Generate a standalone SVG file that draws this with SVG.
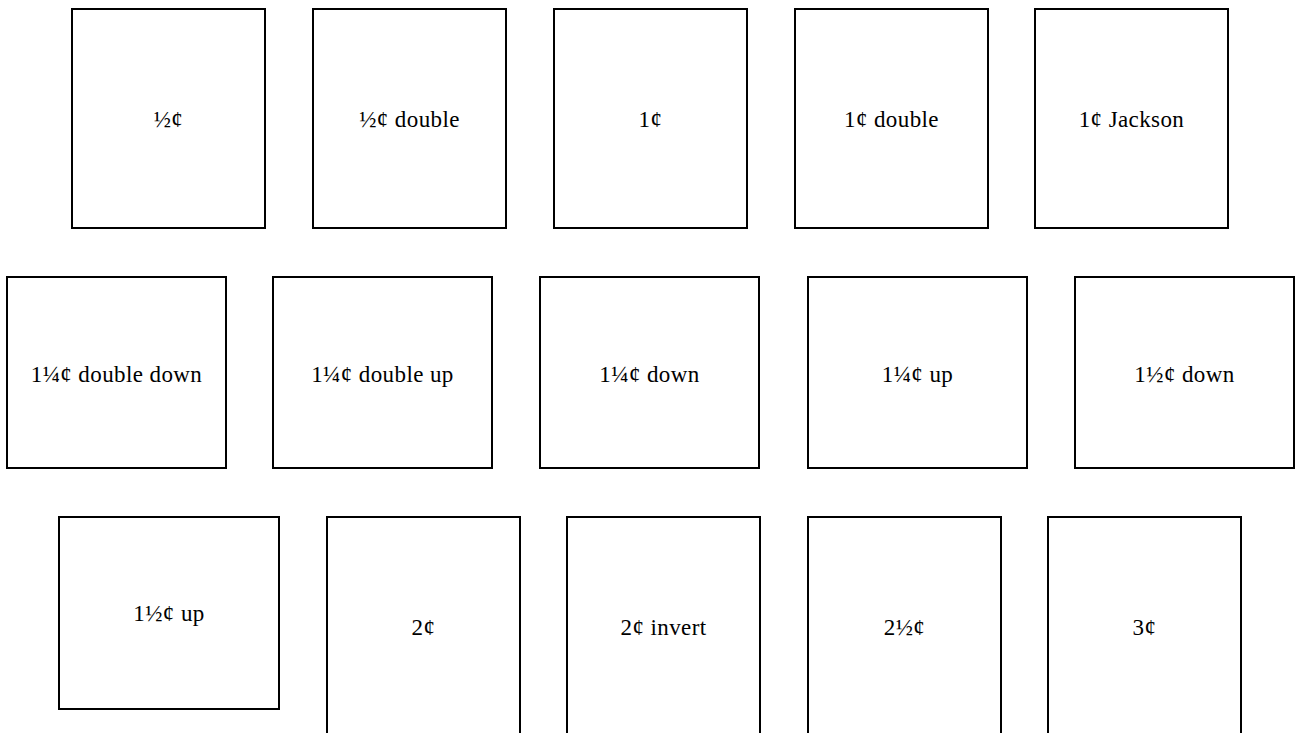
<svg xmlns="http://www.w3.org/2000/svg" width="1298" height="733" viewBox="0 0 1298 733">
<style>
.box{fill:#fff;stroke:#000;stroke-width:2}
.lbl{font-family:"Liberation Serif","Times New Roman",serif;font-size:23px;letter-spacing:0.4px;fill:#000;text-anchor:middle}
</style>
<rect width="1298" height="733" fill="#fff"/>
<g id="n1"><rect class="box" x="72" y="9" width="193" height="219"/><text class="lbl" x="168.5" y="127">½¢</text></g>
<g id="n2"><rect class="box" x="313" y="9" width="193" height="219"/><text class="lbl" x="409.5" y="127">½¢ double</text></g>
<g id="n3"><rect class="box" x="554" y="9" width="193" height="219"/><text class="lbl" x="650.5" y="127">1¢</text></g>
<g id="n4"><rect class="box" x="795" y="9" width="193" height="219"/><text class="lbl" x="891.5" y="127">1¢ double</text></g>
<g id="n5"><rect class="box" x="1035" y="9" width="193" height="219"/><text class="lbl" x="1131.5" y="127">1¢ Jackson</text></g>
<g id="n6"><rect class="box" x="7" y="277" width="219" height="191"/><text class="lbl" x="116.5" y="382">1¼¢ double down</text></g>
<g id="n7"><rect class="box" x="273" y="277" width="219" height="191"/><text class="lbl" x="382.5" y="382">1¼¢ double up</text></g>
<g id="n8"><rect class="box" x="540" y="277" width="219" height="191"/><text class="lbl" x="649.5" y="382">1¼¢ down</text></g>
<g id="n9"><rect class="box" x="808" y="277" width="219" height="191"/><text class="lbl" x="917.5" y="382">1¼¢ up</text></g>
<g id="n10"><rect class="box" x="1075" y="277" width="219" height="191"/><text class="lbl" x="1184.5" y="382">1½¢ down</text></g>
<g id="n11"><rect class="box" x="59" y="517" width="220" height="192"/><text class="lbl" x="169" y="621">1½¢ up</text></g>
<g id="n12"><rect class="box" x="327" y="517" width="193" height="219"/><text class="lbl" x="423.5" y="635">2¢</text></g>
<g id="n13"><rect class="box" x="567" y="517" width="193" height="219"/><text class="lbl" x="663.5" y="635">2¢ invert</text></g>
<g id="n14"><rect class="box" x="808" y="517" width="193" height="219"/><text class="lbl" x="904.5" y="635">2½¢</text></g>
<g id="n15"><rect class="box" x="1048" y="517" width="193" height="219"/><text class="lbl" x="1144.5" y="635">3¢</text></g>
<g id="connectors"></g>
</svg>
